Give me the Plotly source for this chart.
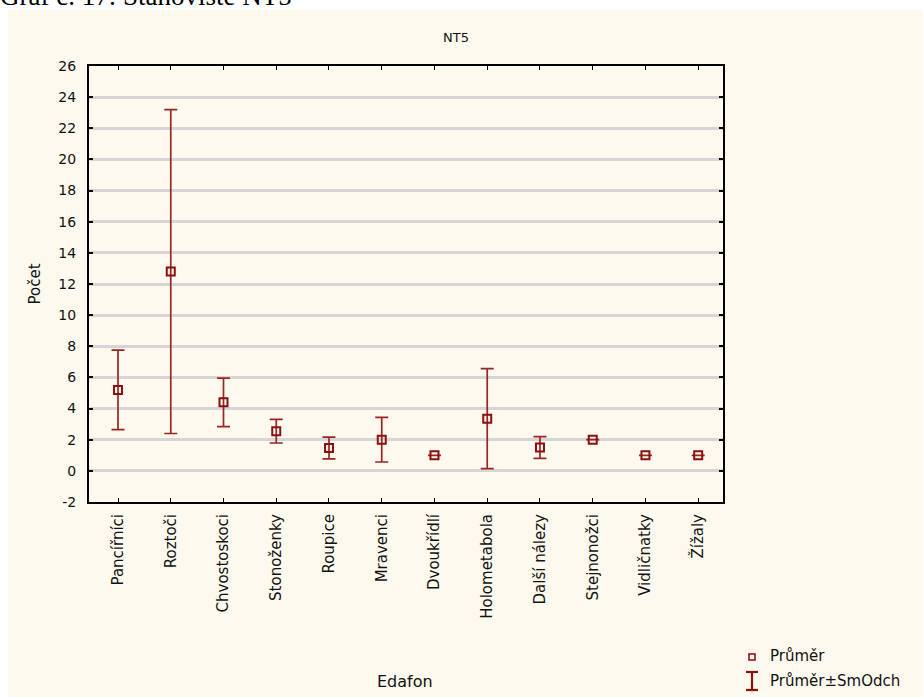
import plotly.graph_objects as go

categories = ["Pancířníci", "Roztoči", "Chvostoskoci", "Stonoženky", "Roupice",
              "Mravenci", "Dvoukřídlí", "Holometabola", "Další nálezy",
              "Stejnonožci", "Vidličnatky", "Žížaly"]
means = [5.2, 12.8, 4.4, 2.55, 1.47, 2.0, 1.0, 3.35, 1.5, 2.0, 1.0, 1.0]
sds = [2.55, 10.4, 1.56, 0.76, 0.7, 1.43, None, 3.21, 0.7, None, None, None]
y_ticks = list(range(-2, 27, 2))

RED = "#8b1010"
FONT = "DejaVu Sans, Verdana, sans-serif"

fig = go.Figure()
fig.add_trace(go.Scatter(
    x=list(range(len(categories))), y=means, mode="markers",
    marker=dict(symbol="square-open", size=8, color=RED, line=dict(width=2, color=RED)),
    error_y=dict(type="data", array=sds, visible=True, color="#9a2525",
                 thickness=1.7, width=6.5),
    showlegend=False,
))

# plot area in pixels: x 89..723, y 66..502
L, R, T, B = 89, 723, 66, 502
W, H = 923, 697
pw, ph = R - L, B - T

def px(xp):
    return (xp - L) / pw

def py(yp):
    return 1 - (yp - T) / ph

# cream panel
fig.add_shape(type="rect", xref="paper", yref="paper", layer="below",
              x0=px(8), x1=px(W + 5), y0=py(H + 5), y1=py(10),
              fillcolor="#fef9ee", line=dict(width=0))

# legend (manual)
fig.add_shape(type="rect", xref="paper", yref="paper",
              x0=px(749), x1=px(755), y0=py(660), y1=py(654),
              line=dict(color=RED, width=1.6), fillcolor="rgba(0,0,0,0)")
for (x0, y0, x1, y1) in [(752, 672, 752, 690), (746, 672, 758, 672), (746, 690, 758, 690)]:
    fig.add_shape(type="line", xref="paper", yref="paper",
                  x0=px(x0), x1=px(x1), y0=py(y0), y1=py(y1),
                  line=dict(color=RED, width=2.2))
fig.add_annotation(xref="paper", yref="paper", x=px(768), y=py(656), text="Průměr",
                   showarrow=False, xanchor="left", yanchor="middle",
                   font=dict(family=FONT, size=15, color="#111"))
fig.add_annotation(xref="paper", yref="paper", x=px(768), y=py(681), text="Průměr±SmOdch",
                   showarrow=False, xanchor="left", yanchor="middle",
                   font=dict(family=FONT, size=15, color="#111"))

# top document caption (partly cut off)
fig.add_annotation(xref="paper", yref="paper", x=px(-2), y=py(13), text="Graf č. 17: Stanoviště NT5",
                   showarrow=False, xanchor="left", yanchor="bottom",
                   font=dict(family="Liberation Serif, Times New Roman, serif", size=27, color="#000"))

# title
fig.add_annotation(xref="paper", yref="paper", x=px(456), y=py(37), text="NT5",
                   showarrow=False, xanchor="center", yanchor="middle",
                   font=dict(family=FONT, size=13, color="#111"))

# x-axis title
fig.add_annotation(xref="paper", yref="paper", x=px(405), y=py(681), text="Edafon",
                   showarrow=False, xanchor="center", yanchor="middle",
                   font=dict(family=FONT, size=16, color="#111"))

fig.update_layout(
    width=W, height=H,
    margin=dict(l=L, r=W - R, t=T, b=H - B, pad=0),
    paper_bgcolor="white", plot_bgcolor="white",
    font=dict(family=FONT, size=14, color="#111"),
    xaxis=dict(
        range=[-0.55, 11.47], tickmode="array",
        tickvals=list(range(len(categories))), ticktext=categories,
        tickangle=-90, showgrid=False, zeroline=False,
        showline=True, linecolor="black", linewidth=2, mirror="ticks",
        ticks="inside", ticklen=4, tickcolor="black", tickwidth=1,
        tickfont=dict(family=FONT, size=15, color="#111"),
        ticklabelstandoff=4,
        automargin=False,
    ),
    yaxis=dict(
        range=[-2, 26], tickmode="array", tickvals=y_ticks,
        ticktext=[str(v) for v in y_ticks],
        showgrid=True, gridcolor="#d6d6d6", gridwidth=2.5, zeroline=False,
        showline=True, linecolor="black", linewidth=2, mirror="ticks",
        ticks="inside", ticklen=4, tickcolor="black", tickwidth=2,
        tickfont=dict(family=FONT, size=14, color="#111"),
        ticklabelstandoff=8,
        title=dict(text="Počet", font=dict(family=FONT, size=15, color="#111"), standoff=14),
        automargin=False,
    ),
)

fig.write_html("out.html")
